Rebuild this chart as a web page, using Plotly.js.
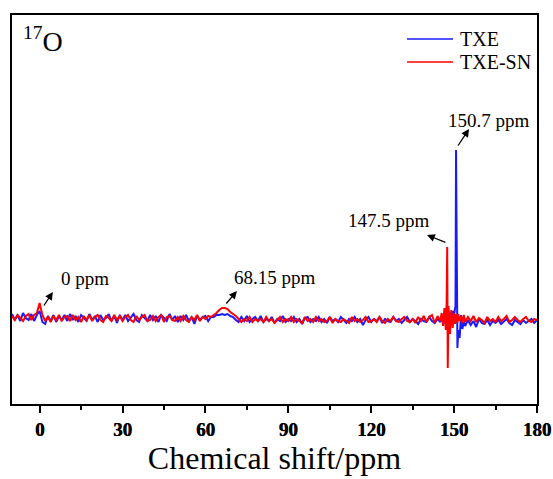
<!DOCTYPE html>
<html>
<head>
<meta charset="utf-8">
<script src="https://cdn.plot.ly/plotly-3.0.1.min.js"></script>
<style>html,body{margin:0;padding:0;background:#fff;}#chart{width:553px;height:479px;}</style>
</head>
<body>
<div id="chart"></div>
<script>
// Chemical shift grid (ppm)
var shift = [
-10,-9,-8,-7,-6,-5,-4,-3,-2,-1,
0,1,2,3,4,5,6,7,8,9,
10,11,12,13,14,15,16,17,18,19,
20,21,22,23,24,25,26,27,28,29,
30,31,32,33,34,35,36,37,38,39,
40,41,42,43,44,45,46,47,48,49,
50,51,52,53,54,55,56,57,58,59,
60,61,62,63,64,65,66,67,68,69,
70,71,72,73,74,75,76,77,78,79,
80,81,82,83,84,85,86,87,88,89,
90,91,92,93,94,95,96,97,98,99,
100,101,102,103,104,105,106,107,108,109,
110,111,112,113,114,115,116,117,118,119,
120,121,122,123,124,125,126,127,128,129,
130,131,132,133,134,135,136,137,138,139,
140,141,142,143,144,145,
145.5,146,146.5,147,147.3,147.5,147.7,148,148.5,149,149.5,150,150.3,150.5,150.7,150.9,151.2,151.5,152,152.5,153,153.5,154,
155,156,157,158,159,160,161,162,163,164,
165,166,167,168,169,170,171,172,173,174,
175,176,177,178,179,180
];

// TXE intensity (a.u.)
var txe = [
4,-2,3,-3,5,0,-2,4,-3,3,
7,-4,-6,2,-3,3,-4,2,-2,3,
-3,4,-2,2,-4,3,0,-3,4,-2,
2,-4,3,-2,0,4,-3,2,-5,3,
-2,3,-3,1,4,-2,-4,3,0,-3,
3,-2,2,-4,3,0,-3,4,-2,2,
-4,2,-2,3,-3,1,-6,2,-2,1,
2,-3,1,1,3,3,4,3,4,2,
1,-2,-4,1,-3,2,-4,-1,1,-3,
2,-4,-1,-3,1,-5,-1,-3,2,-4,
-1,-3,1,-4,-1,-6,0,1,-4,-1,
-3,1,-4,-1,-5,1,-3,-1,-4,1,
-2,-5,-1,-3,1,-4,-1,-7,-2,1,
-4,-1,-3,1,-5,-1,-3,-4,1,-3,
-1,-5,-2,1,-4,-1,-3,-6,-1,-3,
-4,1,-3,-5,-1,-4,
1,-5,3,-6,4,-2,5,-4,6,-5,7,3,9,12,168,10,-30,-12,-20,3,-11,-4,-8,
-2,-7,-3,-9,-1,-5,-6,-2,-7,-3,
-5,-2,-6,-3,-1,-5,-7,-2,-4,-6,
-2,-5,-3,-1,-5,-2
];

// TXE-SN intensity (a.u.)
var txeSN = [
2,-2,3,0,-3,2,4,-2,3,5,
15,3,-3,1,-4,2,-2,3,-3,1,
2,-3,3,-2,1,-4,2,-2,3,-3,
1,3,-2,-4,2,0,-3,3,-2,2,
-3,1,3,-2,-4,2,-2,1,3,-3,
-2,2,-3,1,3,-4,1,2,-2,-3,
1,-3,2,-2,-4,1,-2,3,-3,1,
-1,2,1,3,5,8,10,10,9,6,
4,2,-1,-4,-1,-3,1,-4,-1,-3,
-1,-4,1,-3,-1,-5,-2,1,-4,-1,
-3,1,-4,-1,-3,-5,1,-3,-1,-4,
1,-3,-1,-4,-3,1,-5,-1,-3,-4,
-1,-3,-5,1,-3,-1,-4,-2,1,-4,
-3,-1,-4,1,-3,-5,-1,-3,1,-3,
-4,-1,1,-3,-4,-1,-5,1,-3,2,
-4,1,3,-5,2,-3,
5,-8,10,-12,16,71,-50,12,-16,8,-10,5,-6,4,-4,3,-5,4,-3,2,-5,3,-4,
1,-3,2,-4,0,-2,-5,1,-3,-1,
-4,1,-3,-1,2,-4,-2,1,-2,-4,
-1,1,-3,-4,-1,-2
];

var seriesNames = ['TXE', 'TXE-SN'];
var seriesColors = ['#1a1aff', '#ff0000'];
var xTicks = [0, 30, 60, 90, 120, 150, 180];
var xMinorTicks = [15, 45, 75, 105, 135, 165];

// Peak labels
var peakLabels = ['0 ppm', '68.15 ppm', '147.5 ppm', '150.7 ppm'];
var labelX = [16.4, 85.0, 126.3, 162.5];
var labelY = [40, 41, 98, 198];
var arrowHeadX = [4.8, 71.4, 140.2, 155.4];
var arrowHeadY = [26, 27, 83, 189];
var arrowTailX = [1.2, 67.1, 147.4, 151.1];
var arrowTailY = [11, 13, 75, 171];

var FONT = 'Liberation Serif, Times New Roman, serif';

var traces = [
  {x: shift, y: txe, type: 'scatter', mode: 'lines', name: seriesNames[0],
   line: {color: seriesColors[0], width: 2}},
  {x: shift, y: txeSN, type: 'scatter', mode: 'lines', name: seriesNames[1],
   line: {color: seriesColors[1], width: 2}}
];

var annotations = [];
var shapes = [];
for (var i = 0; i < peakLabels.length; i++) {
  annotations.push({x: labelX[i], y: labelY[i], xref: 'x', yref: 'y', text: peakLabels[i],
    showarrow: false, font: {family: FONT, size: 19, color: '#000'}});
  annotations.push({x: arrowHeadX[i], y: arrowHeadY[i], xref: 'x', yref: 'y',
    ax: arrowTailX[i], ay: arrowTailY[i], axref: 'x', ayref: 'y', text: '',
    showarrow: true, arrowhead: 2, arrowsize: 1.2, arrowwidth: 1.3, arrowcolor: '#000'});
}
annotations.push({x: 0.018, y: 0.936, xref: 'paper', yref: 'paper', xanchor: 'left', yanchor: 'middle',
  text: '<sup>17</sup>O', showarrow: false, font: {family: FONT, size: 28, color: '#000'}});

// Legend drawn in the upper right corner
var legY = [0.938, 0.879];
for (var j = 0; j < seriesNames.length; j++) {
  shapes.push({type: 'line', xref: 'paper', yref: 'paper', x0: 0.7524, x1: 0.84, y0: legY[j], y1: legY[j],
    line: {color: seriesColors[j], width: 1.5}});
  annotations.push({x: 0.8495, y: legY[j], xref: 'paper', yref: 'paper', xanchor: 'left', yanchor: 'middle',
    text: seriesNames[j], showarrow: false, font: {family: FONT, size: 20, color: '#000'}});
}

var layout = {
  width: 553, height: 479,
  margin: {l: 12, r: 16, t: 15, b: 75},
  paper_bgcolor: '#fff', plot_bgcolor: '#fff',
  showlegend: false,
  xaxis: {
    range: [-10, 180], tickmode: 'array', tickvals: xTicks,
    ticks: 'outside', ticklen: 7, tickwidth: 2, tickcolor: '#000',
    showline: true, linewidth: 2, linecolor: '#000', mirror: true, showgrid: false, zeroline: false,
    tickfont: {family: FONT, size: 19, color: '#000', weight: 700, shadow: '0.5px 0 0 #000'},
    minor: {tickvals: xMinorTicks, ticks: 'outside', ticklen: 4, tickwidth: 2, tickcolor: '#000', showgrid: false},
    title: {text: 'Chemical shift/ppm', font: {family: FONT, size: 32, color: '#000'}, standoff: 5}
  },
  yaxis: {
    range: [-86, 303], showticklabels: false, ticks: '', showline: true, linewidth: 2, linecolor: '#000',
    mirror: true, showgrid: false, zeroline: false
  },
  shapes: shapes,
  annotations: annotations
};

Plotly.newPlot('chart', traces, layout, {displayModeBar: false, staticPlot: true});
</script>
</body>
</html>
